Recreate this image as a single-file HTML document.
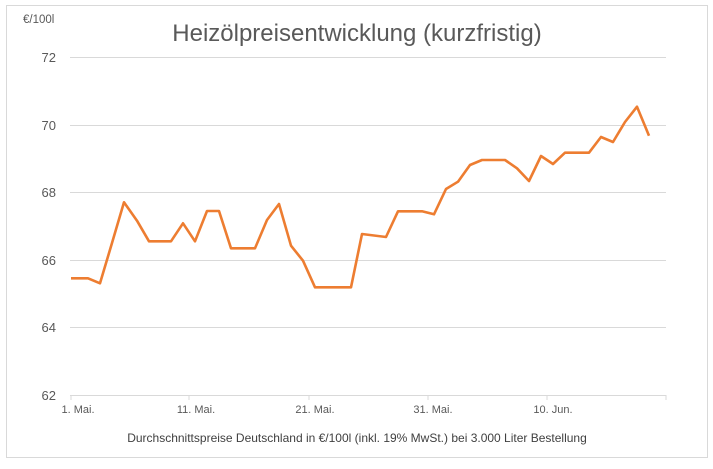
<!DOCTYPE html>
<html><head><meta charset="utf-8"><style>
body{margin:0;background:#fff;}
svg text{font-family:"Liberation Sans",sans-serif;}
</style></head><body>
<svg width="713" height="464" xmlns="http://www.w3.org/2000/svg">
<rect x="0" y="0" width="713" height="464" fill="#fff"/>
<rect x="6.5" y="5.5" width="701" height="452" fill="none" stroke="#d9d9d9"/>
<text x="357" y="41" text-anchor="middle" font-size="24" fill="#595959">Heizölpreisentwicklung (kurzfristig)</text>
<text x="23" y="23" font-size="11.5" fill="#595959">€/100l</text>
<g stroke="#d9d9d9" stroke-width="1">
<line x1="70" y1="57.5" x2="666" y2="57.5"/>
<line x1="70" y1="125.5" x2="666" y2="125.5"/>
<line x1="70" y1="192.5" x2="666" y2="192.5"/>
<line x1="70" y1="260.5" x2="666" y2="260.5"/>
<line x1="70" y1="327.5" x2="666" y2="327.5"/>
<line x1="70" y1="395.5" x2="666" y2="395.5"/>
<line x1="71" y1="395" x2="71" y2="400"/>
<line x1="189" y1="395" x2="189" y2="400"/>
<line x1="309" y1="395" x2="309" y2="400"/>
<line x1="428" y1="395" x2="428" y2="400"/>
<line x1="547" y1="395" x2="547" y2="400"/>
<line x1="666" y1="395" x2="666" y2="400"/>
</g>
<g font-size="13" fill="#595959" text-anchor="end">
<text x="56" y="62">72</text>
<text x="56" y="130">70</text>
<text x="56" y="197">68</text>
<text x="56" y="265">66</text>
<text x="56" y="332">64</text>
<text x="56" y="400">62</text>
</g>
<g font-size="11" fill="#595959" text-anchor="middle">
<text x="78" y="413">1. Mai.</text>
<text x="196" y="413">11. Mai.</text>
<text x="315" y="413">21. Mai.</text>
<text x="433" y="413">31. Mai.</text>
<text x="553" y="413">10. Jun.</text>
</g>
<text x="357" y="442" text-anchor="middle" font-size="12" fill="#404040">Durchschnittspreise Deutschland in €/100l (inkl. 19% MwSt.) bei 3.000 Liter Bestellung</text>
<polyline fill="none" stroke="#ed7d31" stroke-width="2.6" stroke-linejoin="round" points="71,278.3 88,278.3 100,283.3 112,243 124,202.3 137,220.7 149,241.3 171,241.3 183,223.3 195,241.3 207,211 219,211 231,248.3 255,248.3 267,220 279,204 291,245.7 303,260.7 315,287.3 351,287.3 362,234 386,237 398,211.3 422,211.3 434,214.3 446,189 458,181.7 470,165 482,160 505,160 517,168.3 529,181 541,156 553,164 565,152.7 589,152.7 601,137 613,142 625,122 637,106.7 649,135.7"/>
</svg>
</body></html>
